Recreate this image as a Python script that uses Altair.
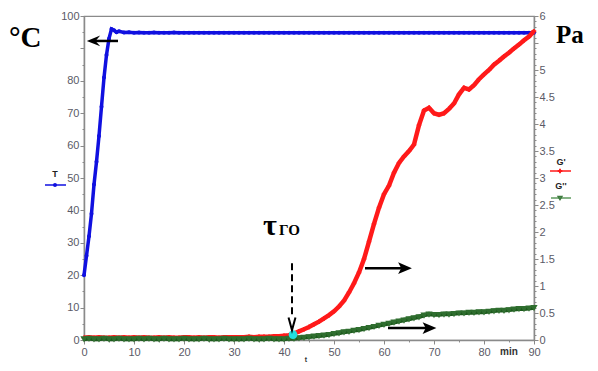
import altair as alt
import pandas as pd

# ---------------- data ----------------
T_time = [0, 0.5, 1, 1.5, 2, 2.5, 3, 3.5, 4, 4.5, 5, 5.5, 6, 6.5, 7,
          8, 9, 10, 11, 12, 13, 14, 15, 16, 17, 18, 19, 20, 21, 22, 23, 24, 25, 26, 27, 28, 29,
          30, 31, 32, 33, 34, 35, 36, 37, 38, 39, 40, 41, 42, 43, 44, 45, 46, 47, 48, 49,
          50, 51, 52, 53, 54, 55, 56, 57, 58, 59, 60, 61, 62, 63, 64, 65, 66, 67, 68, 69,
          70, 71, 72, 73, 74, 75, 76, 77, 78, 79, 80, 81, 82, 83, 84, 85, 86, 87, 88, 89, 90]
T_vals = [20, 26, 32, 39, 48, 55, 63, 72, 81, 88, 93, 96, 95.6, 95.0, 95.3,
          94.9, 95.0, 94.8, 94.9, 94.8, 94.8, 94.9, 94.8, 94.8, 94.8, 94.9, 94.8, 94.8, 94.8, 94.8,
          94.8, 94.8, 94.8, 94.8, 94.8, 94.8, 94.8, 94.8, 94.8, 94.8, 94.8, 94.8, 94.8, 94.8, 94.8,
          94.8, 94.8, 94.8, 94.8, 94.8, 94.8, 94.8, 94.8, 94.8, 94.8, 94.8, 94.8, 94.8, 94.8, 94.8,
          94.8, 94.8, 94.8, 94.8, 94.8, 94.8, 94.8, 94.8, 94.8, 94.8, 94.8, 94.8, 94.8, 94.8, 94.8,
          94.8, 94.8, 94.8, 94.8, 94.8, 94.8, 94.8, 94.8, 94.8, 94.8, 94.8, 94.8, 94.8, 94.8, 94.8,
          94.8, 94.8, 94.8, 94.8, 94.8, 94.8, 94.8, 94.8]

G_time = list(range(0, 91))
G1_vals = [0.04, 0.05, 0.04, 0.05, 0.04, 0.04, 0.05, 0.04, 0.05, 0.04,
           0.05, 0.04, 0.05, 0.04, 0.04, 0.05, 0.04, 0.05, 0.04, 0.04,
           0.05, 0.05, 0.04, 0.05, 0.04, 0.05, 0.05, 0.04, 0.05, 0.05,
           0.05, 0.05, 0.05, 0.06, 0.05, 0.06, 0.06, 0.06, 0.07, 0.07,
           0.08, 0.09, 0.12, 0.16, 0.20, 0.24, 0.29, 0.34, 0.40, 0.46,
           0.53, 0.62, 0.73, 0.88, 1.05, 1.25, 1.50, 1.82, 2.15, 2.45,
           2.70, 2.86, 3.10, 3.28, 3.40, 3.50, 3.62, 3.98, 4.25, 4.30,
           4.20, 4.17, 4.20, 4.28, 4.38, 4.55, 4.67, 4.64, 4.72, 4.83,
           4.92, 5.00, 5.10, 5.17, 5.25, 5.32, 5.40, 5.47, 5.55, 5.62, 5.72]
G2_vals = [0.02, 0.03, 0.02, 0.02, 0.03, 0.02, 0.02, 0.03, 0.02, 0.02,
           0.02, 0.03, 0.02, 0.03, 0.02, 0.02, 0.03, 0.02, 0.02, 0.02,
           0.03, 0.02, 0.02, 0.02, 0.03, 0.02, 0.02, 0.02, 0.03, 0.02,
           0.02, 0.02, 0.02, 0.03, 0.02, 0.02, 0.02, 0.03, 0.02, 0.02,
           0.02, 0.03, 0.03, 0.04, 0.05, 0.06, 0.07, 0.08, 0.09, 0.10,
           0.12, 0.13, 0.15, 0.16, 0.18, 0.19, 0.21, 0.23, 0.25, 0.27,
           0.29, 0.31, 0.33, 0.35, 0.37, 0.39, 0.41, 0.43, 0.46, 0.48,
           0.47, 0.47, 0.48, 0.48, 0.49, 0.50, 0.50, 0.51, 0.51, 0.52,
           0.52, 0.53, 0.54, 0.55, 0.55, 0.56, 0.57, 0.58, 0.58, 0.59, 0.60]

# annotation anchors (data coordinates)
tau_t, tau_g = 41.8, 0.10
dash_t, dash_top, dash_bot, dash_tip = 41.6, 1.42, 0.42, 0.30
arrow1 = dict(t1=56.2, t2=64.2, tip=65.5, g=1.33)
arrow2 = dict(t1=60.8, t2=69.1, tip=70.4, g=0.22)
arrowT = dict(t1=6.8, t2=1.9, tip=0.6, T=92.3)

x_ticks = list(range(0, 91, 5))
yl_ticks = list(range(0, 101, 5))
yr_ticks = [round(i * 0.1, 1) for i in range(61)]

BLUE = "#1010e0"
RED = "#ff1a1a"
GREEN = "#1d5a1d"
AX = "#8a8a8a"
LAB = "#5a5a66"

# ---------------- scales / axes ----------------
xs = alt.Scale(domain=[0, 90], nice=False)
yls = alt.Scale(domain=[0, 100], nice=False)
yrs = alt.Scale(domain=[0, 6], nice=False)

x_axis = alt.Axis(values=x_ticks, title=None, grid=False, labelOverlap=False,
                  labelExpr="datum.value % 10 === 0 ? format(datum.value, 'd') : ''",
                  tickSize={"condition": {"test": "datum.value % 10 === 0", "value": 4}, "value": 2},
                  labelPadding=2, labelFlush=False)
yl_axis = alt.Axis(values=yl_ticks, title=None, grid=False, orient="left", labelOverlap=False,
                   labelExpr="datum.value % 10 === 0 && datum.value !== 90 ? format(datum.value, 'd') : ''",
                   tickSize={"condition": {"test": "datum.value % 10 === 0", "value": 4}, "value": 2},
                   labelPadding=1, labelFlush=False)
yr_axis = alt.Axis(values=yr_ticks, title=None, grid=False, orient="right", labelOverlap=False,
                   labelExpr="(abs(datum.value * 2 - round(datum.value * 2)) < 0.001 && abs(datum.value - 5.5) > 0.01) ? format(datum.value, '~g') : ''",
                   tickSize={"condition": {"test": "abs(datum.value * 2 - round(datum.value * 2)) < 0.001", "value": 4}, "value": 2},
                   labelPadding=1, labelFlush=False)

dfT = pd.DataFrame({"t": T_time, "T": T_vals})
dfG1 = pd.DataFrame({"t": G_time, "g": G1_vals})
dfG2 = pd.DataFrame({"t": G_time, "g": G2_vals})


def X(f="t:Q"):
    return alt.X(f, scale=xs, axis=x_axis)


def YL(f="T:Q"):
    return alt.Y(f, scale=yls, axis=yl_axis)


def YR(f="g:Q"):
    return alt.Y(f, scale=yrs, axis=yr_axis)


# ---------------- left layer (temperature) ----------------
t_line = alt.Chart(dfT).mark_line(color=BLUE, strokeWidth=3.5).encode(x=X(), y=YL())
t_pts = alt.Chart(dfT).mark_point(color=BLUE, filled=True, size=16, opacity=1).encode(x=X(), y=YL())
dfAT = pd.DataFrame([arrowT])
t_arrow_line = alt.Chart(dfAT).mark_rule(color="black", strokeWidth=2.5).encode(
    x=X("t1:Q"), x2="t2:Q", y=YL())
t_arrow_head = alt.Chart(dfAT).mark_point(
    shape="M-1,0L1,-0.8L0.3,0L1,0.8Z", filled=True, color="black", size=180, opacity=1
).encode(x=X("t2:Q"), y=YL())
left = alt.layer(t_line, t_pts, t_arrow_line, t_arrow_head)

# ---------------- right layer (moduli) ----------------
g1_line = alt.Chart(dfG1).mark_line(color=RED, strokeWidth=4.5).encode(x=X(), y=YR())
g1_pts = alt.Chart(dfG1).mark_point(color=RED, shape="cross", filled=True, size=20, opacity=1).encode(x=X(), y=YR())
g2_line = alt.Chart(dfG2).mark_line(color=GREEN, strokeWidth=4.5).encode(x=X(), y=YR())
g2_pts = alt.Chart(dfG2).mark_point(color="#2f6e2f", shape="triangle-down", filled=False, size=14, opacity=1).encode(x=X(), y=YR())

dfTau = pd.DataFrame([{"t": tau_t, "g": tau_g}])
tau_pt = alt.Chart(dfTau).mark_point(color="#22dede", filled=True, size=75, opacity=1).encode(x=X(), y=YR())

dfDash = pd.DataFrame([{"t": dash_t, "g1": dash_top, "g2": dash_bot, "tip": dash_tip}])
dash_rule = alt.Chart(dfDash).mark_rule(color="black", strokeWidth=2, strokeDash=[7, 4]).encode(
    x=X(), y=YR("g1:Q"), y2="g2:Q")
dash_head = alt.Chart(dfDash).mark_point(
    shape="M-0.55,-1L0,1L0.55,-1", filled=False, color="black", strokeWidth=2, size=160, opacity=1
).encode(x=X(), y=YR("tip:Q"))

dfA = pd.DataFrame([arrow1, arrow2])
arr_line = alt.Chart(dfA).mark_rule(color="black", strokeWidth=2.5).encode(
    x=X("t1:Q"), x2="t2:Q", y=YR())
arr_head = alt.Chart(dfA).mark_point(
    shape="M1,0L-1,-0.85L-0.55,0L-1,0.85Z", filled=True, color="black", size=190, opacity=1
).encode(x=X("t2:Q"), y=YR())

right = alt.layer(g1_line, g1_pts, g2_line, g2_pts, tau_pt, dash_rule, dash_head, arr_line, arr_head)

# ---------------- texts and legend (placed in pixels) ----------------
def txt(s, x, y, size, font="Liberation Sans", weight="normal", color="black", align="left"):
    return alt.Chart(pd.DataFrame({"s": [s]})).mark_text(
        font=font, fontSize=size, fontWeight=weight, color=color, align=align, baseline="alphabetic"
    ).encode(text="s:N", x=alt.value(x), y=alt.value(y))

def seg(x1, x2, y, color, w=1.5):
    return alt.Chart(pd.DataFrame({"a": [0]})).mark_rule(color=color, strokeWidth=w).encode(
        x=alt.value(x1), x2=alt.value(x2), y=alt.value(y))

def sym(x, y, color, shape, size, filled=True):
    return alt.Chart(pd.DataFrame({"a": [0]})).mark_point(
        color=color, shape=shape, size=size, filled=filled, opacity=1, strokeWidth=1.5
    ).encode(x=alt.value(x), y=alt.value(y))

texts = alt.layer(
    txt("°C", -75, 31, 29, font="Liberation Serif", weight="bold"),
    txt("Pa", 472, 27, 25, font="Liberation Serif", weight="bold"),
    txt("τ", 179, 219, 30, font="Liberation Serif", weight="bold"),
    txt("ГО", 195, 219, 15, font="Liberation Serif", weight="bold"),
    txt("min", 425, 339, 10, weight="bold", color="#333", align="center"),
    txt("t", 222, 346, 7, weight="bold", color="#333", align="center"),
    txt("T", -29, 161, 9, weight="bold", color="#222", align="center"),
    seg(-39, -18, 169, BLUE),
    sym(-29, 169, BLUE, "circle", 16),
    txt("G'", 477, 149, 9, weight="bold", color="#222", align="center"),
    seg(466, 487, 155, RED),
    sym(476, 155, RED, "cross", 22),
    txt("G''", 477, 173, 9, weight="bold", color="#222", align="center"),
    seg(467, 487, 182, "#5e9a5e"),
    sym(476, 182, "#3d7a3d", "triangle-down", 14, filled=False),
)

chart = alt.layer(left, right, texts).resolve_scale(y="independent").properties(
    width=450, height=324,
    autosize=alt.AutoSizeParams(type="none"),
    padding={"left": 76, "top": 8, "right": 56, "bottom": 23},
    background="white",
).configure_view(
    stroke=AX, strokeWidth=1.2
).configure_axis(
    domainColor=AX, domainWidth=1.5, tickColor=AX, tickWidth=1,
    labelColor=LAB, labelFont="Liberation Sans", labelFontSize=11,
)

chart.save("out.html", embed_options={"renderer": "svg", "actions": False})
